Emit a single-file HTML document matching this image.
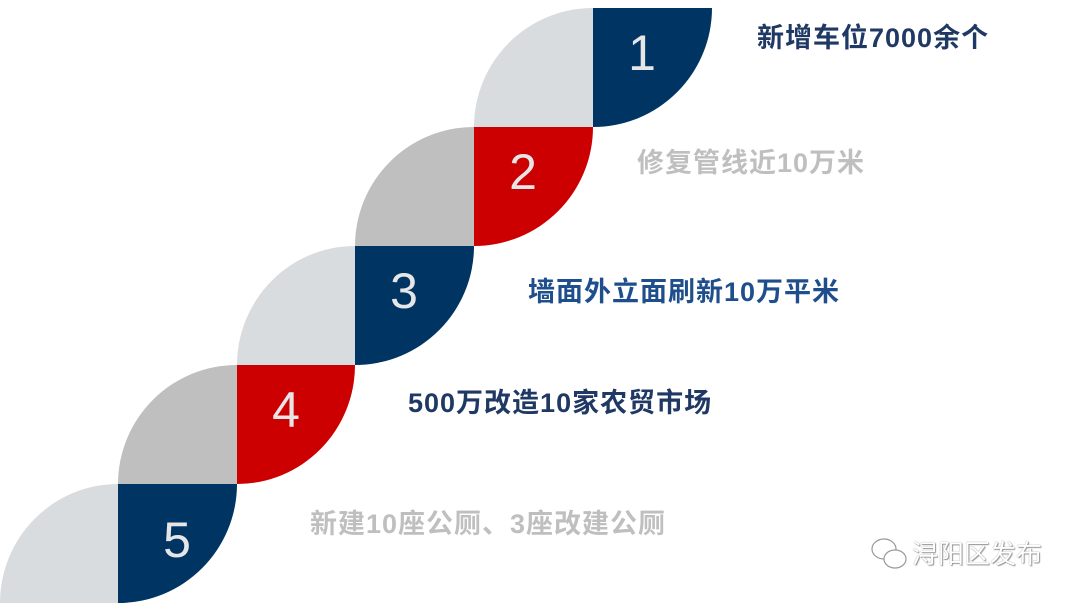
<!DOCTYPE html>
<html><head><meta charset="utf-8"><style>
html,body{margin:0;padding:0;background:#fff;}
body{width:1080px;height:606px;position:relative;overflow:hidden;font-family:"Liberation Sans","Noto Sans CJK SC",sans-serif;}
.t{position:absolute;font-size:27px;font-weight:bold;white-space:nowrap;line-height:1;letter-spacing:1px;}
.wm{position:absolute;left:912px;top:541px;font-size:26px;color:#fff;text-shadow:0 0 1px #777,1px 1px 1px #999;line-height:1;}
</style></head><body>
<svg width="1080" height="606" style="position:absolute;left:0;top:0">
<g font-family="Liberation Sans, DejaVu Sans, sans-serif" font-size="50" fill="#e6e6e6" text-anchor="middle">
<path d="M474,127 A119,119 0 0 1 593,8 L593,127 Z" fill="#d9dcdf"/>
<path d="M593,8 L712,8 A119,119 0 0 1 593,127 Z" fill="#003463"/>
<text x="642" y="70">1</text>
<path d="M355,246 A119,119 0 0 1 474,127 L474,246 Z" fill="#bfbfbf"/>
<path d="M474,127 L593,127 A119,119 0 0 1 474,246 Z" fill="#cc0000"/>
<text x="523" y="189">2</text>
<path d="M237,365 A118,119 0 0 1 355,246 L355,365 Z" fill="#d9dcdf"/>
<path d="M355,246 L474,246 A119,119 0 0 1 355,365 Z" fill="#003463"/>
<text x="404" y="308">3</text>
<path d="M118,484 A119,119 0 0 1 237,365 L237,484 Z" fill="#bfbfbf"/>
<path d="M237,365 L355,365 A118,119 0 0 1 237,484 Z" fill="#cc0000"/>
<text x="286" y="427">4</text>
<path d="M0,603 A118,119 0 0 1 118,484 L118,603 Z" fill="#d9dcdf"/>
<path d="M118,484 L237,484 A119,119 0 0 1 118,603 Z" fill="#003463"/>
<text x="177" y="557">5</text>
</g>
<g fill="#fff" stroke="#999" stroke-width="1.2">
<ellipse cx="884" cy="549" rx="12" ry="10"/>
<ellipse cx="895" cy="559" rx="11" ry="9"/>
</g>
</svg>
<div class="t" style="left:757px;top:25px;color:#1f3864;">新增车位7000余个</div>
<div class="t" style="left:637px;top:150px;color:#bfbfbf;">修复管线近10万米</div>
<div class="t" style="left:528px;top:279px;color:#1f4e8c;">墙面外立面刷新10万平米</div>
<div class="t" style="left:408px;top:390px;color:#1f3864;">500万改造10家农贸市场</div>
<div class="t" style="left:310px;top:511px;color:#bfbfbf;">新建10座公厕、3座改建公厕</div>
<div class="wm">浔阳区发布</div>
</body></html>
